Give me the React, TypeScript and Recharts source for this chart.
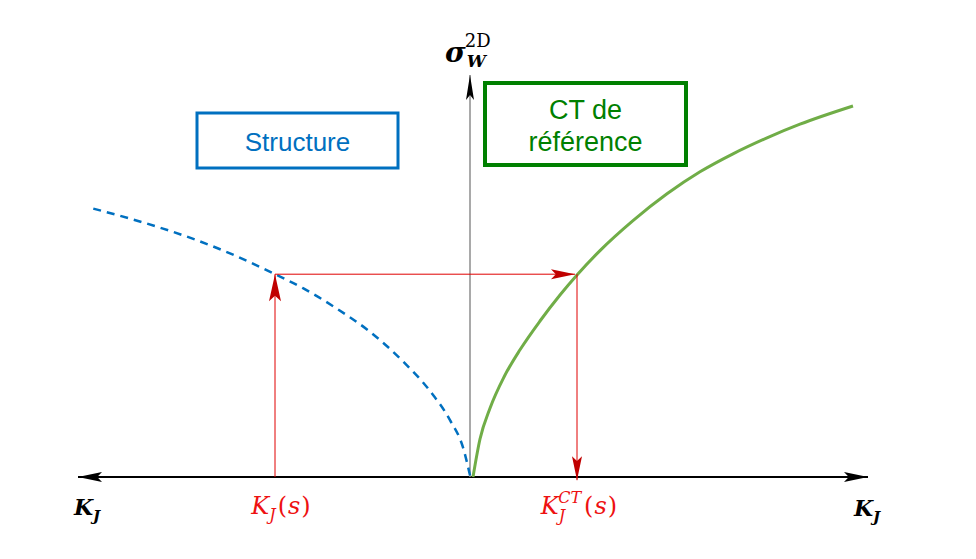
import {
  ComposedChart,
  Line,
  XAxis,
  YAxis,
  ReferenceLine,
  ReferenceArea,
  ReferenceDot,
} from "recharts";

// Structure curve (blue, dashed) : K_J < 0
const structureK = [-0.9468, -0.855, -0.7725, -0.688, -0.605, -0.4925, -0.4225, -0.338, -0.255, -0.1725, -0.105, -0.055, -0.0225, -0.004];
const structureV = [0.671, 0.646, 0.621, 0.592, 0.559, 0.507, 0.472, 0.421, 0.363, 0.289, 0.215, 0.142, 0.074, 0];

// CT de référence curve (green) : K_J > 0
const ctK = [0.0025, 0.02, 0.045, 0.08, 0.12, 0.17, 0.22, 0.2625, 0.32, 0.4025, 0.4875, 0.57, 0.6525, 0.7375, 0.82, 0.9525];
const ctV = [0, 0.095, 0.172, 0.25, 0.318, 0.39, 0.455, 0.505, 0.566, 0.641, 0.708, 0.763, 0.808, 0.848, 0.882, 0.9275];

// reading path K_J(s) -> sigma -> K_J^CT(s)
const ksStructure = -0.4925;
const ksCT = 0.2625;
const sigmaLevel = 0.507;

const structureData = structureK.map((k, i) => ({ k, v: structureV[i] }));
const ctData = ctK.map((k, i) => ({ k, v: ctV[i] }));

const MATH_FONT = "'DejaVu Serif', 'Liberation Serif', serif";
const TEXT_FONT = "'Liberation Sans', Arial, sans-serif";

type Head = "start" | "end";

const arrow =
  (color: string, headColor: string, width: number, headLen: number, half: number, heads: Head[]) =>
  (p: any) => {
    const { x1, y1, x2, y2 } = p;
    const dx = x2 - x1;
    const dy = y2 - y1;
    const len = Math.hypot(dx, dy) || 1;
    const ux = dx / len;
    const uy = dy / len;
    const head = (tx: number, ty: number, ax: number, ay: number) => {
      const bx = tx - ax * headLen;
      const by = ty - ay * headLen;
      const nx = tx - ax * headLen * 0.8;
      const ny = ty - ay * headLen * 0.8;
      return `${tx},${ty} ${bx - ay * half},${by + ax * half} ${nx},${ny} ${bx + ay * half},${by - ax * half}`;
    };
    return (
      <g>
        <line x1={x1} y1={y1} x2={x2} y2={y2} stroke={color} strokeWidth={width} />
        {heads.includes("end") && <polygon points={head(x2, y2, ux, uy)} fill={headColor} />}
        {heads.includes("start") && <polygon points={head(x1, y1, -ux, -uy)} fill={headColor} />}
      </g>
    );
  };

const box =
  (lines: string[], color: string, sw: number, fontSize: number, gap: number, shift: number) =>
  (p: any) => {
    const { x, y, width, height } = p;
    const cx = x + width / 2;
    const first = y + height / 2 - ((lines.length - 1) * gap) / 2 + shift;
    return (
      <g>
        <rect x={x} y={y} width={width} height={height} fill="#fff" stroke={color} strokeWidth={sw} />
        {lines.map((t, i) => (
          <text
            key={t}
            x={cx}
            y={first + i * gap}
            textAnchor="middle"
            dominantBaseline="central"
            fill={color}
            fontFamily={TEXT_FONT}
            fontSize={fontSize}
          >
            {t}
          </text>
        ))}
      </g>
    );
  };

const kjBold = (p: any) => (
  <text
    x={p.cx}
    y={p.cy}
    textAnchor="middle"
    fontFamily={MATH_FONT}
    fontWeight="bold"
    fontStyle="italic"
    fontSize={22}
    fill="#000"
  >
    K<tspan dy={6} fontSize={15}>J</tspan>
  </text>
);

const kjS = (p: any) => (
  <text x={p.cx} y={p.cy} textAnchor="middle" fontFamily={MATH_FONT} fontSize={24} fill="#ee1111">
    <tspan fontStyle="italic">K</tspan>
    <tspan dy={6} fontSize={16} fontStyle="italic">J</tspan>
    <tspan dx={2} dy={-6}>(</tspan>
    <tspan dx={1} fontStyle="italic">s</tspan>
    <tspan dx={1}>)</tspan>
  </text>
);

const kjCT = (p: any) => (
  <text x={p.cx} y={p.cy} textAnchor="middle" fontFamily={MATH_FONT} fontSize={24} fill="#ee1111">
    <tspan fontStyle="italic">K</tspan>
    <tspan dy={7} fontSize={16} fontStyle="italic">J</tspan>
    <tspan dx={-7} dy={-18} fontSize={16} fontStyle="italic">CT</tspan>
    <tspan dx={3} dy={11}>(</tspan>
    <tspan dx={1} fontStyle="italic">s</tspan>
    <tspan dx={1}>)</tspan>
  </text>
);

const sigmaLabel = (p: any) => (
  <text x={p.cx} y={p.cy} fontFamily={MATH_FONT} fontSize={28} fill="#000">
    <tspan fontWeight="bold" fontStyle="italic">σ</tspan>
    <tspan dx={1} dy={5} fontSize={17} fontWeight="bold" fontStyle="italic">W</tspan>
    <tspan dx={-21} dy={-20} fontSize={18}>2D</tspan>
  </text>
);

export default function App() {
  return (
    <div style={{ position: "absolute", left: 0, top: 0, width: 976, height: 559, background: "#fff" }}>
      <ComposedChart width={976} height={559} margin={{ top: 0, right: 0, bottom: 0, left: 0 }}>
        <XAxis type="number" dataKey="k" domain={[-1.18, 1.26]} hide allowDataOverflow />
        <YAxis type="number" dataKey="v" domain={[-0.205, 1.1925]} hide allowDataOverflow />

        {/* axes */}
        <ReferenceLine
          segment={[{ x: -0.985, y: 0 }, { x: 0.99, y: 0 }]}
          ifOverflow="visible"
          shape={arrow("#000", "#000", 2, 24, 5, ["start", "end"])}
        />
        <ReferenceLine
          segment={[{ x: -0.005, y: 0 }, { x: -0.005, y: 1.005 }]}
          ifOverflow="visible"
          shape={arrow("#8c8c8c", "#000", 1.5, 25, 4, ["end"])}
        />

        <ReferenceArea
          x1={-0.6875}
          x2={-0.185}
          y1={0.7725}
          y2={0.91}
          ifOverflow="visible"
          shape={box(["Structure"], "#0070C0", 3, 26, 0, 1)}
        />
        <ReferenceArea
          x1={0.0325}
          x2={0.535}
          y1={0.78}
          y2={0.985}
          ifOverflow="visible"
          shape={box(["CT de", "référence"], "#008000", 4, 27, 32, 2)}
        />

        <Line
          data={structureData}
          dataKey="v"
          type="monotone"
          stroke="#0070C0"
          strokeWidth={2.5}
          strokeDasharray="8 6"
          dot={false}
          activeDot={false}
          isAnimationActive={false}
        />
        <Line
          data={ctData}
          dataKey="v"
          type="monotone"
          stroke="#70AD47"
          strokeWidth={3}
          dot={false}
          activeDot={false}
          isAnimationActive={false}
        />

        {/* reading path */}
        <ReferenceLine
          segment={[{ x: ksStructure, y: 0 }, { x: ksStructure, y: sigmaLevel }]}
          ifOverflow="visible"
          shape={arrow("#e00000", "#c00000", 1, 27, 6, ["end"])}
        />
        <ReferenceLine
          segment={[{ x: ksStructure, y: sigmaLevel }, { x: ksCT - 0.005, y: sigmaLevel }]}
          ifOverflow="visible"
          shape={arrow("#e00000", "#c00000", 1, 24, 5, ["end"])}
        />
        <ReferenceLine
          segment={[{ x: ksCT, y: sigmaLevel }, { x: ksCT, y: -0.008 }]}
          ifOverflow="visible"
          shape={arrow("#e00000", "#c00000", 1, 24, 5, ["end"])}
        />

        <ReferenceDot x={-0.9625} y={-0.095} ifOverflow="visible" shape={kjBold} />
        <ReferenceDot x={0.9875} y={-0.0975} ifOverflow="visible" shape={kjBold} />
        <ReferenceDot x={-0.4775} y={-0.0925} ifOverflow="visible" shape={kjS} />
        <ReferenceDot x={0.2675} y={-0.0925} ifOverflow="visible" shape={kjCT} />
        <ReferenceDot x={-0.0675} y={1.0375} ifOverflow="visible" shape={sigmaLabel} />
      </ComposedChart>
    </div>
  );
}
